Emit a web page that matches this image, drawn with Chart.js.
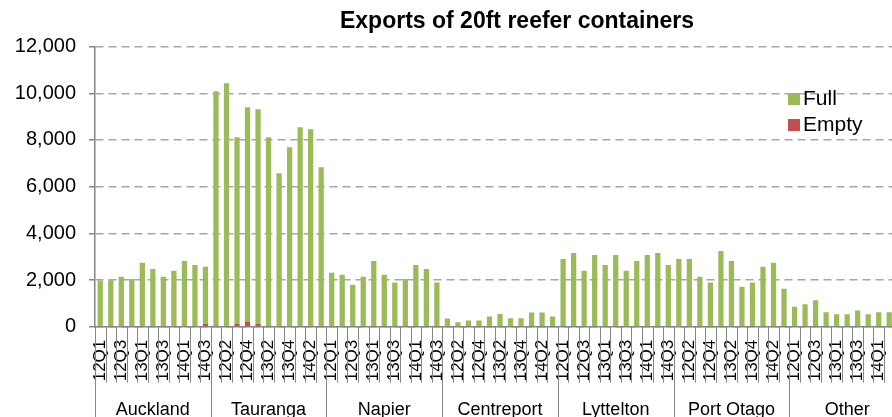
<!DOCTYPE html>
<html>
<head>
<meta charset="utf-8">
<script src="https://cdn.jsdelivr.net/npm/chart.js@4.4.1/dist/chart.umd.min.js"></script>
<style>
  html, body { margin: 0; padding: 0; background: #fff; overflow: hidden; }
  #wrap { width: 892px; height: 417px; overflow: hidden; }
</style>
</head>
<body>
<div id="wrap">
  <canvas id="chart" width="1034" height="417"></canvas>
</div>
<script>
// ports and quarters (two-level category axis)
const ports = ['Auckland', 'Tauranga', 'Napier', 'Centreport', 'Lyttelton', 'Port Otago', 'Other'];
const quarters = ['12Q1', '12Q2', '12Q3', '12Q4', '13Q1', '13Q2', '13Q3', '13Q4', '14Q1', '14Q2', '14Q3'];

// full containers, one line per port
const fullValues = [
    1980, 1990, 2140, 2040, 2740, 2430, 2100, 2360, 2770, 2620, 2440,       // Auckland
    10040, 10390, 7990, 9180, 9190, 8070, 6530, 7690, 8550, 8420, 6790,     // Tauranga
    2310, 2230, 1800, 2140, 2810, 2230, 1890, 2040, 2640, 2470, 1890,       // Napier
    350, 190, 270, 270, 440, 540, 360, 360, 610, 610, 440,                  // Centreport
    2900, 3160, 2400, 3070, 2640, 3070, 2400, 2810, 3070, 3160, 2640,       // Lyttelton
    2900, 2900, 2110, 1890, 3240, 2810, 1710, 1890, 2570, 2740, 1630,       // Port Otago
    860, 960, 1130, 620, 530, 530, 690, 530, 620, 620, 600                  // Other
];

// empty containers
const emptyValues = [
    0, 0, 0, 0, 0, 40, 40, 40, 40, 20, 130,
    50, 40, 130, 220, 130, 50, 40, 0, 0, 40, 40,
    0, 0, 0, 0, 0, 0, 0, 0, 0, 0, 0,
    0, 0, 0, 0, 0, 0, 0, 0, 0, 0, 0,
    0, 0, 0, 0, 0, 0, 0, 0, 0, 0, 0,
    0, 0, 30, 0, 0, 0, 0, 0, 0, 0, 0,
    0, 0, 0, 0, 0, 0, 0, 0, 0, 0, 0
];

const yTicks = [0, 2000, 4000, 6000, 8000, 10000, 12000];

const labels = [];
ports.forEach(() => quarters.forEach(q => labels.push(q)));

const FONT = '"Liberation Sans", Arial, sans-serif';
const GREEN = '#9bbb59';
const RED = '#c0504d';
const AXIS = '#868686';

// tick marks, port names and legend drawn under the axis
const portAxis = {
    id: 'portAxis',
    afterDraw(chart) {
        const ctx = chart.ctx;
        const x = chart.scales.x;
        const area = chart.chartArea;
        const step = x.getPixelForValue(1) - x.getPixelForValue(0);

        ctx.save();
        ctx.strokeStyle = AXIS;
        ctx.lineWidth = 1;
        for (let i = 0; i <= labels.length; i++) {
            const px = Math.round(x.getPixelForValue(i) - step / 2) + 0.5;
            ctx.beginPath();
            ctx.moveTo(px, area.bottom);
            ctx.lineTo(px, i % quarters.length === 0 ? chart.height : area.bottom + 56);
            ctx.stroke();
        }

        ctx.fillStyle = '#000';
        ctx.font = '18px ' + FONT;
        ctx.textAlign = 'center';
        ctx.textBaseline = 'alphabetic';
        ports.forEach((p, g) => {
            const a = x.getPixelForValue(g * quarters.length);
            const b = x.getPixelForValue(g * quarters.length + quarters.length - 1);
            ctx.fillText(p, (a + b) / 2, 415);
        });

        // legend
        ctx.font = '21px ' + FONT;
        ctx.textAlign = 'left';
        ctx.textBaseline = 'middle';
        ctx.fillStyle = GREEN;
        ctx.fillRect(788, 93, 12, 12);
        ctx.fillStyle = RED;
        ctx.fillRect(788, 119, 12, 12);
        ctx.fillStyle = '#000';
        ctx.fillText('Full', 803, 99);
        ctx.fillText('Empty', 803, 125);
        ctx.restore();
    }
};

new Chart(document.getElementById('chart'), {
    type: 'bar',
    data: {
        labels: labels,
        datasets: [
            {
                label: 'Empty',
                data: emptyValues,
                backgroundColor: RED,
                barPercentage: 0.5,
                categoryPercentage: 1
            },
            {
                label: 'Full',
                data: fullValues,
                backgroundColor: GREEN,
                barPercentage: 0.5,
                categoryPercentage: 1
            }
        ]
    },
    options: {
        responsive: false,
        animation: false,
        layout: { padding: 0 },
        plugins: {
            legend: { display: false },
            tooltip: { enabled: false },
            title: {
                display: true,
                text: 'Exports of 20ft reefer containers',
                color: '#000',
                font: { family: FONT, size: 23, weight: 'bold', lineHeight: 1.2 },
                padding: { top: 8, bottom: 11 }
            }
        },
        scales: {
            x: {
                stacked: true,
                grid: { display: false },
                border: { display: true, color: AXIS, width: 1.5 },
                ticks: {
                    autoSkip: false,
                    minRotation: 90,
                    maxRotation: 90,
                    padding: 5,
                    color: '#000',
                    font: { family: FONT, size: 17 },
                    callback: function (v, i) {
                        return i % 2 === 0 ? this.getLabelForValue(v) : '';
                    }
                },
                afterFit: s => { s.height = 90.3; }
            },
            y: {
                stacked: true,
                min: 0,
                max: 12000,
                afterBuildTicks: s => { s.ticks = yTicks.map(v => ({ value: v })); },
                grid: {
                    color: '#a6a6a6',
                    lineWidth: 1.5,
                    tickLength: 6,
                    tickColor: AXIS,
                    tickWidth: 1.5
                },
                border: { display: true, color: AXIS, width: 1.5, dash: [8, 5] },
                ticks: {
                    padding: 13,
                    color: '#000',
                    font: { family: FONT, size: 20 }
                },
                afterFit: s => { s.width = 95; }
            },
            y2: {
                position: 'right',
                display: true,
                grid: { display: false },
                border: { display: false },
                ticks: { display: false },
                afterFit: s => { s.width = 129; }
            }
        }
    },
    plugins: [portAxis]
});
</script>
</body>
</html>
